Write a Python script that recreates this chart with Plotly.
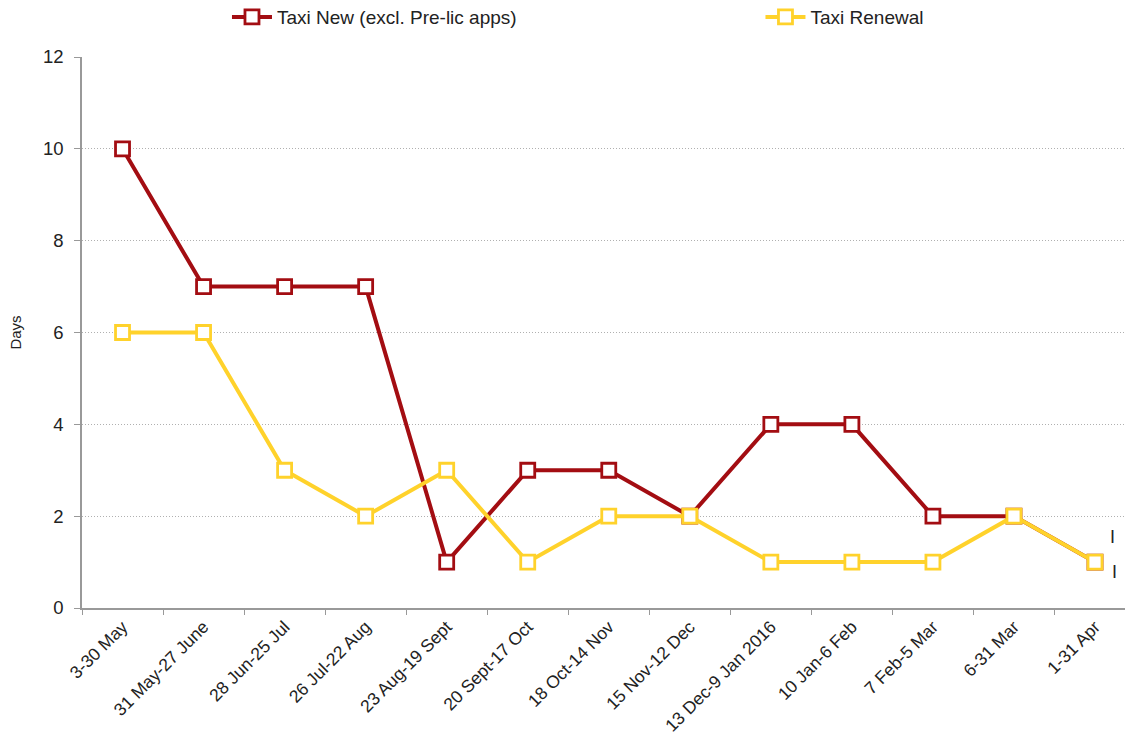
import plotly.graph_objects as go

categories = ["3-30 May", "31 May-27 June", "28 Jun-25 Jul", "26 Jul-22 Aug", "23 Aug-19 Sept",
              "20 Sept-17 Oct", "18 Oct-14 Nov", "15 Nov-12 Dec", "13 Dec-9 Jan 2016",
              "10 Jan-6 Feb", "7 Feb-5 Mar", "6-31 Mar", "1-31 Apr"]
taxi_new = [10, 7, 7, 7, 1, 3, 3, 2, 4, 4, 2, 2, 1]
taxi_renewal = [6, 6, 3, 2, 3, 1, 2, 2, 1, 1, 1, 2, 1]
series_names = ["Taxi New (excl. Pre-lic apps)", "Taxi Renewal"]
end_marks = ["I", "I"]
y_ticks = [0, 2, 4, 6, 8, 10, 12]

RED = "#A30D12"
YELLOW = "#FFD22B"
FONT = "Liberation Sans, Arial, sans-serif"

fig = go.Figure()
for name, vals, col, lg in [(series_names[0], taxi_new, RED, "legend"),
                            (series_names[1], taxi_renewal, YELLOW, "legend2")]:
    fig.add_trace(go.Scatter(
        x=categories, y=vals, name=name, mode="lines+markers", legend=lg,
        line=dict(color=col, width=4),
        marker=dict(symbol="square", size=14, color="white", line=dict(color=col, width=2.8)),
    ))

# small "I" labels near the last points
xr = [-0.5, 12.37]
last = len(categories) - 1
xpaper = (last - xr[0]) / (xr[1] - xr[0])
fig.add_annotation(x=xpaper, y=taxi_new[-1], xref="paper", yref="y", text=end_marks[0],
                   showarrow=False, xanchor="center", yanchor="middle",
                   xshift=17, yshift=25, font=dict(family=FONT, size=18, color="#222"))
fig.add_annotation(x=xpaper, y=taxi_renewal[-1], xref="paper", yref="y", text=end_marks[1],
                   showarrow=False, xanchor="center", yanchor="middle",
                   xshift=19, yshift=-10, font=dict(family=FONT, size=18, color="#222"))

legend_common = dict(orientation="h", y=1.0725, yanchor="middle",
                     font=dict(family=FONT, size=19, color="#222"),
                     itemwidth=40, bgcolor="rgba(0,0,0,0)")

fig.update_layout(
    width=1125, height=742,
    margin=dict(l=82, r=0, t=57, b=134, autoexpand=False),
    paper_bgcolor="white", plot_bgcolor="white",
    font=dict(family=FONT, color="#222"),
    showlegend=True,
    legend=dict(x=0.139, xanchor="left", **legend_common),
    legend2=dict(x=0.6505, xanchor="left", **legend_common),
    xaxis=dict(type="category", range=xr, tickson="boundaries",
               tickangle=-45, ticks="outside", ticklen=5, tickcolor="#999",
               showline=True, linecolor="#999", linewidth=1.5, showgrid=False,
               automargin=False,
               tickfont=dict(family=FONT, size=17.5, color="#222")),
    yaxis=dict(range=[0, 12], tickvals=y_ticks, ticks="outside", ticklen=6, tickcolor="#999",
               showline=True, linecolor="#999", linewidth=1.5,
               showgrid=True, gridcolor="#b0b0b0", griddash="1px,2px", gridwidth=1,
               zeroline=False, automargin=False, ticklabelstandoff=7,
               tickfont=dict(family=FONT, size=18.5, color="#222"),
               title=dict(text="Days", font=dict(family=FONT, size=15, color="#222"), standoff=18)),
)

fig.write_html("out.html", config={"displayModeBar": False},
               post_script="document.body.style.margin='0';")
